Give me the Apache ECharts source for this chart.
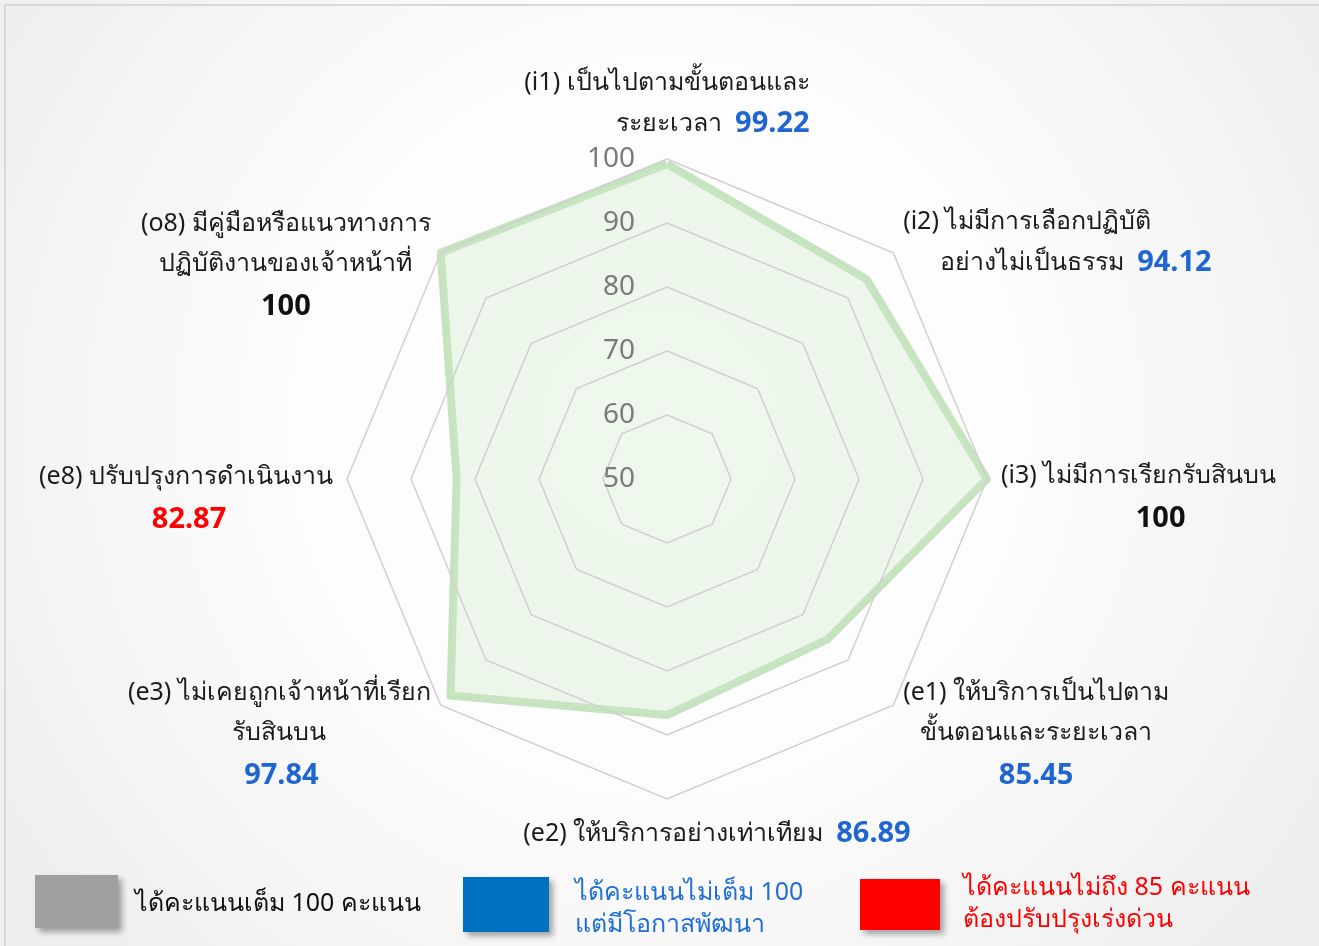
<!DOCTYPE html>
<html>
<head>
<meta charset="utf-8">
<script src="https://cdn.jsdelivr.net/npm/echarts@6/dist/echarts.min.js"></script>
<style>
  html, body { margin: 0; padding: 0; background: #fff; }
  #chart { position: absolute; left: 0; top: 0; width: 1319px; height: 946px; }
  #frame { position: absolute; left: 4px; top: 4px; width: 1340px; height: 960px;
           border: 2px solid #d9d9d9; pointer-events: none; }
</style>
</head>
<body>
<div id="chart"></div>
<div id="frame"></div>
<script>
// indicators, clockwise from the top (as in the picture)
var codes = ['i1', 'i2', 'i3', 'e1', 'e2', 'e3', 'e8', 'o8'];
var nameLines = [
  ['(i1) เป็นไปตามขั้นตอนและ', 'ระยะเวลา'],
  ['(i2) ไม่มีการเลือกปฏิบัติ', 'อย่างไม่เป็นธรรม'],
  ['(i3) ไม่มีการเรียกรับสินบน'],
  ['(e1) ให้บริการเป็นไปตาม', 'ขั้นตอนและระยะเวลา'],
  ['(e2) ให้บริการอย่างเท่าเทียม'],
  ['(e3) ไม่เคยถูกเจ้าหน้าที่เรียก', 'รับสินบน'],
  ['(e8) ปรับปรุงการดำเนินงาน'],
  ['(o8) มีคู่มือหรือแนวทางการ', 'ปฏิบัติงานของเจ้าหน้าที่']
];
var scores = [99.22, 94.12, 100, 85.45, 86.89, 97.84, 82.87, 100];
var axisTicks = [50, 60, 70, 80, 90, 100];
var legendLabels = [
  'ได้คะแนนเต็ม 100 คะแนน',
  'ได้คะแนนไม่เต็ม 100\nแต่มีโอกาสพัฒนา',
  'ได้คะแนนไม่ถึง 85 คะแนน\nต้องปรับปรุงเร่งด่วน'
];

var FONT = "'Noto Sans', 'DejaVu Sans', sans-serif";

// label layout (how each name block is arranged)
var lineAlign = [['c', 'r'], ['l', 'ind'], ['c'], ['c', 'c'], ['c'], ['c', 'c'], ['c'], ['c', 'c']];
var scoreInline = [true, true, false, false, true, false, false, false];
var scoreShift = [0, 0, 44, 0, 0, 4, 6, 0];
var namePadding = [[0, 0, 0, 0], [0, 0, 0, 0], [36, 0, 0, 0], [38, 0, 0, 0],
                   [0, 0, 0, 100], [38, 0, 0, 0], [38, 0, 0, 0], [44, 0, 0, 0]];

function scoreKey(v) {
  if (v >= 100) return 'k';
  if (v < 85) return 'r';
  return 'b';
}
var scoreColors = { k: '#111111', b: '#1f66d1', r: '#ff0000' };

var rich = {};
var alignNames = { l: 'left', c: 'center', r: 'right', ind: 'left' };
Object.keys(alignNames).forEach(function (a) {
  rich['t' + a] = { fontFamily: FONT, fontSize: 25, color: '#1b1b1b', lineHeight: 40, align: alignNames[a] };
  Object.keys(scoreColors).forEach(function (k) {
    rich[k + a] = { fontFamily: FONT, fontSize: 29, fontWeight: 'bold', color: scoreColors[k], lineHeight: 42, align: alignNames[a] };
  });
});
rich.tind.padding = [0, 0, 0, 37];

function buildName(i) {
  var lines = nameLines[i];
  var out = [];
  var sk = scoreKey(scores[i]);
  for (var j = 0; j < lines.length; j++) {
    var a = lineAlign[i][j];
    var last = scoreInline[i] && j === lines.length - 1;
    var s = '{t' + a + '|' + lines[j] + (last ? '  ' : '') + '}';
    if (last) s += '{' + sk + (a === 'ind' ? 'l' : a) + '|' + scores[i] + '}';
    out.push(s);
  }
  if (!scoreInline[i]) {
    var key = sk + 'c' + i;
    rich[key] = Object.assign({}, rich[sk + 'c'], { padding: [4, 0, 0, scoreShift[i]] });
    out.push('{' + key + '|' + scores[i] + '}');
  }
  return out.join('\n');
}
var nameTexts = codes.map(function (c, i) { return buildName(i); });

// echarts lays radar indicators out counter-clockwise
var order = [0, 7, 6, 5, 4, 3, 2, 1];

var indicators = order.map(function (i) {
  var ind = {
    name: codes[i],
    idx: i,
    min: axisTicks[0],
    max: axisTicks[axisTicks.length - 1],
    nameTextStyle: { padding: namePadding[i] }
  };
  if (i === 0) ind.axisLabel = { show: true };
  return ind;
});

var chart = echarts.init(document.getElementById('chart'));

var option = {
  backgroundColor: {
    type: 'radial', x: 0.5, y: 0.45, r: 0.8,
    colorStops: [{ offset: 0, color: '#ffffff' }, { offset: 0.5, color: '#fcfcfc' }, { offset: 1, color: '#efefef' }]
  },
  textStyle: { fontFamily: FONT },
  radar: {
    z: 3,
    center: [667, 479],
    radius: 320,
    startAngle: 90,
    splitNumber: axisTicks.length - 1,
    shape: 'polygon',
    axisNameGap: 14,
    axisName: {
      color: '#1b1b1b',
      fontFamily: FONT,
      rich: rich,
      formatter: function (name, ind) { return nameTexts[ind.idx]; }
    },
    axisLine: { show: false },
    axisTick: { show: false },
    axisLabel: { show: false, color: '#7a7a7a', fontSize: 28, fontFamily: FONT, margin: 32, showMinLabel: true },
    splitLine: { lineStyle: { color: '#d0d0d0', width: 1.5 } },
    splitArea: { show: false },
    indicator: indicators
  },
  series: [{
    type: 'radar',
    z: 2,
    symbol: 'none',
    lineStyle: { width: 8, color: 'rgba(160,210,150,0.6)' },
    areaStyle: { color: 'rgba(205,232,198,0.45)' },
    data: [{ value: order.map(function (i) { return scores[i]; }) }]
  }],
  graphic: [
    { type: 'rect', shape: { x: 35, y: 875, width: 83, height: 53 },
      style: { fill: '#a0a0a0', shadowBlur: 6, shadowOffsetX: 4, shadowOffsetY: 4, shadowColor: 'rgba(0,0,0,0.35)' } },
    { type: 'text', x: 135, y: 904,
      style: { text: legendLabels[0], fontSize: 25, fontFamily: FONT, fill: '#111111', verticalAlign: 'middle' } },
    { type: 'rect', shape: { x: 463, y: 877, width: 86, height: 55 },
      style: { fill: '#0070c0', shadowBlur: 6, shadowOffsetX: 4, shadowOffsetY: 4, shadowColor: 'rgba(0,0,0,0.35)' } },
    { type: 'text', x: 575, y: 909,
      style: { text: legendLabels[1], fontSize: 25, lineHeight: 32, fontFamily: FONT, fill: '#1f6fd6', verticalAlign: 'middle' } },
    { type: 'rect', shape: { x: 860, y: 879, width: 80, height: 51 },
      style: { fill: '#ff0000', shadowBlur: 6, shadowOffsetX: 4, shadowOffsetY: 4, shadowColor: 'rgba(0,0,0,0.35)' } },
    { type: 'text', x: 963, y: 904,
      style: { text: legendLabels[2], fontSize: 25, lineHeight: 32, fontFamily: FONT, fill: '#ff0000', verticalAlign: 'middle' } }
  ]
};

chart.setOption(option);
</script>
</body>
</html>
